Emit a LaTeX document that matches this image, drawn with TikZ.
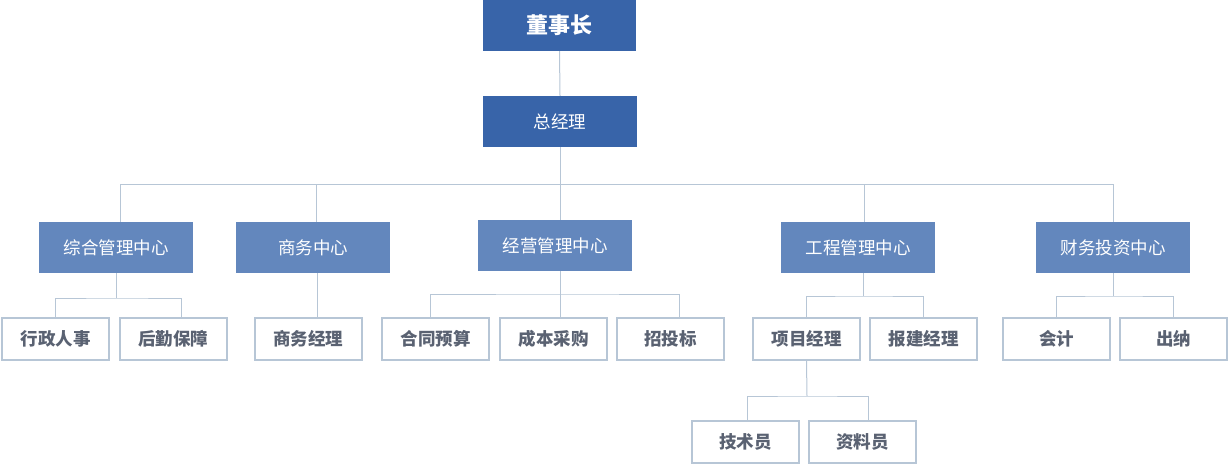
\documentclass[tikz,border=0pt]{standalone}
\usepackage{fontspec}
\setmainfont{Noto Sans CJK SC}
\definecolor{topblue}{HTML}{3864A9}
\definecolor{deptblue}{HTML}{6387BD}
\definecolor{linegray}{HTML}{B7C6D6}
\definecolor{posttext}{HTML}{5A6272}

\begin{document}
\begin{tikzpicture}[x=1pt,y=-1pt,
  lead/.style={fill=topblue,text=white,minimum width=153,minimum height=51,inner sep=0pt},
  dept/.style={fill=deptblue,text=white,minimum width=154,minimum height=51,inner sep=0pt,
    font=\fontsize{17.5}{20}\selectfont},
  post/.style={draw=linegray,line width=2pt,fill=white,text=posttext,minimum width=107,
    minimum height=42,inner sep=0pt,font=\fontsize{17.5}{20}\selectfont\bfseries},
  link/.style={draw=linegray,line width=1pt}]
  \useasboundingbox (0,0) rectangle (1229,465);

  % top
  \node[lead,font=\fontsize{22}{26}\selectfont\bfseries] (ceo) at (559.5,25.5) {董事长};
  \node[lead,minimum width=154,font=\fontsize{17.5}{20}\selectfont] (gm) at (560,121.5) {总经理};

  % centres
  \node[dept] (zh) at (116,247.5) {综合管理中心};
  \node[dept] (sw) at (313,247.5) {商务中心};
  \node[dept] (jy) at (555,245.5) {经营管理中心};
  \node[dept] (gc) at (858,247.5) {工程管理中心};
  \node[dept] (cw) at (1113,247.5) {财务投资中心};

  % posts
  \node[post] (xz) at (55.5,339) {行政人事};
  \node[post] (hq) at (173,339) {后勤保障};
  \node[post] (swjl) at (308,339) {商务经理};
  \node[post] (ht) at (435.5,339) {合同预算};
  \node[post] (cb) at (553.5,339) {成本采购};
  \node[post] (zt) at (670.5,339) {招投标};
  \node[post] (xm) at (806.5,339) {项目经理};
  \node[post] (bj) at (923.5,339) {报建经理};
  \node[post] (kj) at (1056.5,339) {会计};
  \node[post] (cn) at (1173.5,339) {出纳};
  \node[post] (js) at (745.5,442) {技术员};
  \node[post] (zl) at (862.5,442) {资料员};

  \coordinate (bus) at (560,185);
  \coordinate (zhbus) at (116,298);
  \coordinate (jybus) at (560,294);
  \coordinate (gcbus) at (863,296);
  \coordinate (cwbus) at (1113,296);
  \coordinate (xmbus) at (807,396);

  \draw[link] (ceo.south) -- (gm.north);
  \draw[link] (gm.south) -- (bus);
  \draw[link] ([xshift=4]zh.north) |- (bus) -| (cw.north);
  \foreach \n/\dx in {sw/3,jy/5,gc/6}
    \draw[link] ([xshift=\dx]\n.north) |- (bus);

  \draw[link] (zh.south) -- (zhbus);
  \draw[link] (xz.north) |- (zhbus) -| ([xshift=8]hq.north);
  \draw[link] ([xshift=4]sw.south) -- ([xshift=9]swjl.north);
  \draw[link] ([xshift=5]jy.south) -- ([xshift=6.5]cb.north);
  \draw[link] ([xshift=-5]ht.north) |- (jybus) -| ([xshift=9]zt.north);
  \draw[link] ([xshift=5]gc.south) -- (gcbus);
  \draw[link] (xm.north) |- (gcbus) -| (bj.north);
  \draw[link] (cw.south) -- (cwbus);
  \draw[link] (kj.north) |- (cwbus) -| (cn.north);
  \draw[link] (xm.south) -- (xmbus);
  \draw[link] ([xshift=2]js.north) |- (xmbus) -| ([xshift=6]zl.north);
\end{tikzpicture}
\end{document}
